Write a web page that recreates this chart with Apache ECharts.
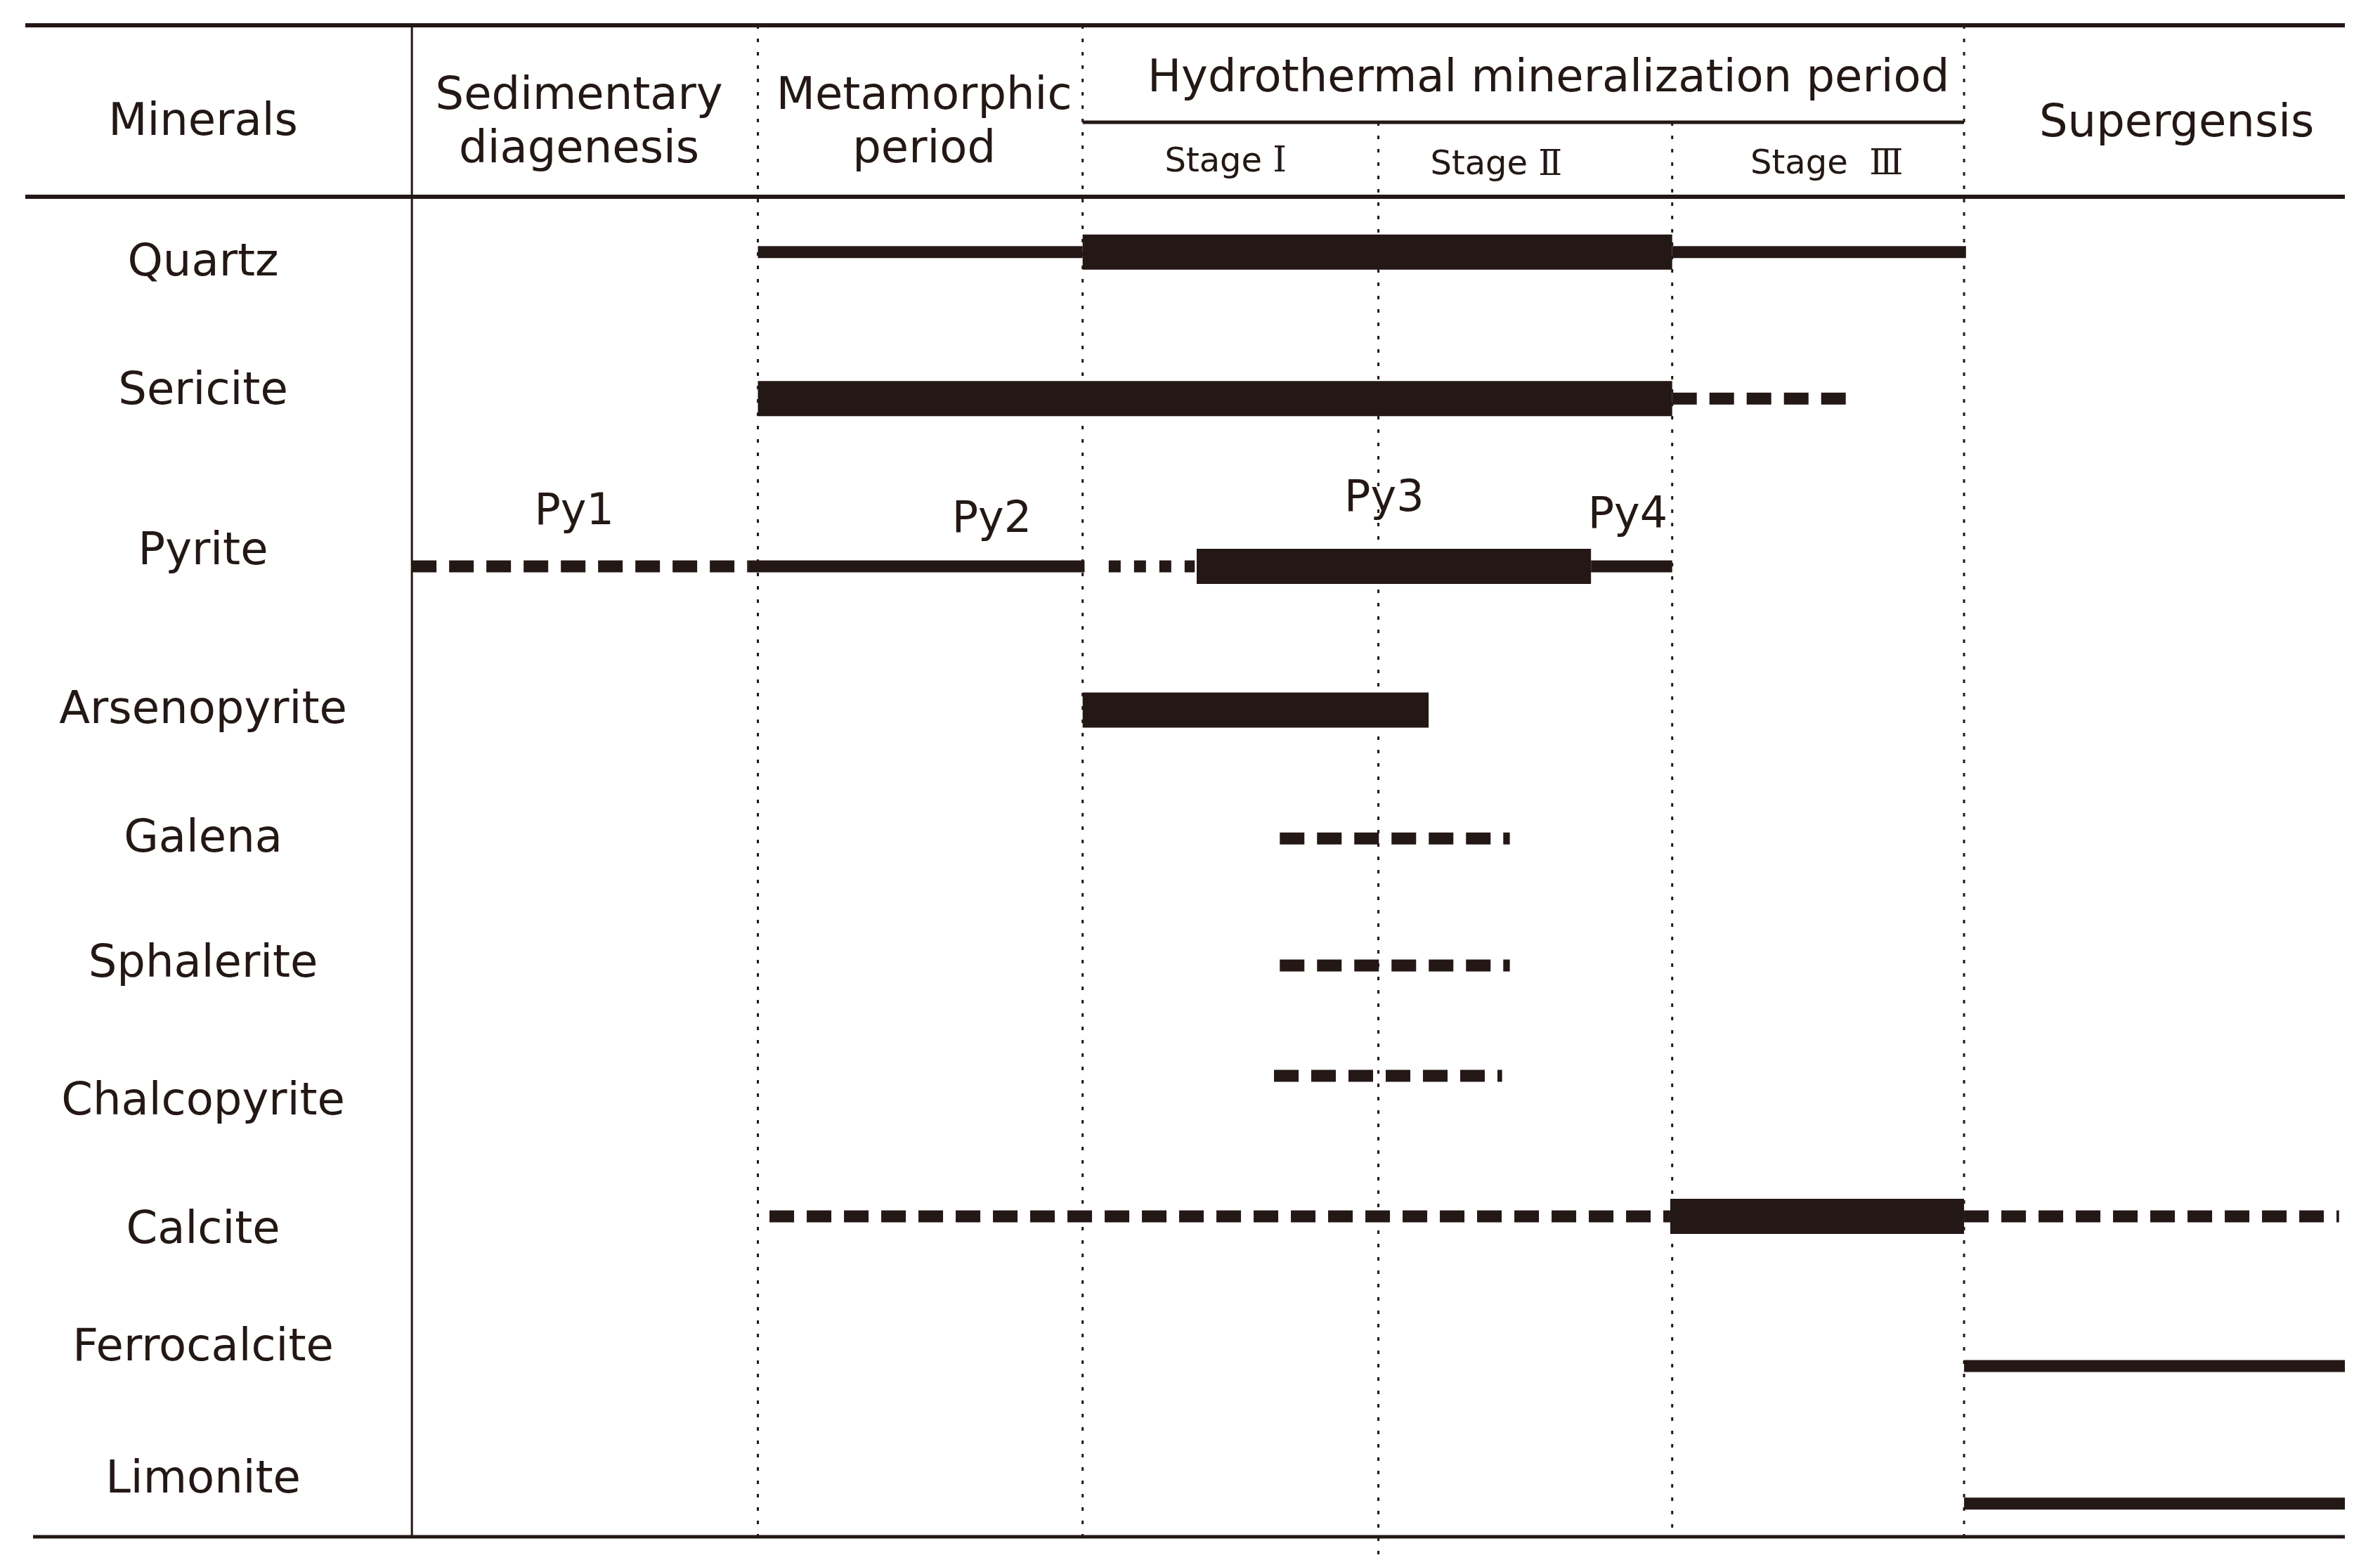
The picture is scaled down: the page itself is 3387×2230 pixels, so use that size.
<!DOCTYPE html>
<html><head><meta charset="utf-8">
<script src="https://cdn.jsdelivr.net/npm/echarts@6/dist/echarts.min.js"></script>
<style>html,body{margin:0;padding:0;background:#fff}#c{width:3387px;height:2230px}</style>
</head><body><div id="c"></div>
<script>
// ---- data ----
const minerals = ['Quartz','Sericite','Pyrite','Arsenopyrite','Galena','Sphalerite','Chalcopyrite','Calcite','Ferrocalcite','Limonite'];
const rowY   = [15.0, 24.7, 35.8, 45.3, 53.8, 62.2, 69.5, 78.8, 88.7, 97.8];
const labelY = [15.5, 24.0, 34.6, 45.1, 53.6, 61.9, 71.0, 79.5, 87.3, 96.0];
const periodBounds = [0, 17.9, 34.7, 50.0, 65.2, 80.3, 100];
const periodNames = ['Sedimentary\ndiagenesis', 'Metamorphic\nperiod', 'Hydrothermal mineralization period', 'Supergensis'];
const stageNames = ['Ⅰ', 'Ⅱ', 'Ⅲ'];
// segments: [mineral, start, end]
const strongSegs = [['Quartz',34.7,65.2],['Sericite',17.9,65.2],['Pyrite',40.6,61.0],['Arsenopyrite',34.7,52.6],['Calcite',65.1,80.3]];
const weakSegs   = [['Quartz',17.9,34.7],['Quartz',65.2,80.4],['Pyrite',17.4,34.8],['Pyrite',61.0,65.2],['Ferrocalcite',80.3,100],['Limonite',80.3,100]];
const rareSegs   = [['Sericite',65.2,74.2],['Pyrite',0,17.4],['Galena',44.9,56.8],['Sphalerite',44.9,56.8],['Chalcopyrite',44.6,56.4],['Calcite',18.5,65.1],['Calcite',80.3,99.7]];
const traceSegs  = [['Pyrite',36.05,40.5]];
const pyriteGens = ['Py1','Py2','Py3','Py4'];
const pyriteGenX = [8.4, 30.0, 50.3, 62.9];
const pyriteGenY = [32.0, 32.5, 31.1, 32.2];

// ---- layout / style ----
const INK = '#231815';
const FONT = 'DejaVu Sans';
const TEXT_DY = 6;
const L = {
  left: -20, headerSub: 6.42, headerBottom: 11.34,
  mineralsX: -10.8, mineralsY: 6.2,
  periodPos: [[8.65, 6.25], [26.5, 6.25], [58.8, 3.3], [91.3, 6.3]],
  stagePos: [[42.1, 8.95], [56.1, 9.15], [73.2, 9.1]],
  stageGap: [' ', ' ', '  ']
};

const chart = echarts.init(document.getElementById('c'), null, {renderer: 'canvas'});

function toData(segs) {
  return segs.map(([m, a, b]) => [a, b, rowY[minerals.indexOf(m)]]);
}
function segRender(kind) {
  return function (params, api) {
    const s = api.coord([api.value(0), api.value(2)]);
    const e = api.coord([api.value(1), api.value(2)]);
    if (kind === 'strong' || kind === 'weak') {
      const h = kind === 'strong' ? 50 : 17;
      return {type: 'rect', shape: {x: s[0], y: s[1] - h / 2, width: e[0] - s[0], height: h}, style: {fill: INK}};
    }
    return {type: 'line', shape: {x1: s[0], y1: s[1], x2: e[0], y2: e[1]},
      style: {stroke: INK, lineWidth: 17, lineCap: 'butt', lineDash: kind === 'rare' ? [35, 18] : [17, 19]}};
  };
}

function frameRender(params, api) {
  const c = (x, y) => api.coord([x, y]);
  const kids = [];
  const hline = (y, x1, x2, w) => {
    const a = c(x1, y), b = c(x2, y);
    kids.push({type: 'line', shape: {x1: a[0], y1: a[1], x2: b[0], y2: b[1]}, style: {stroke: INK, lineWidth: w}});
  };
  const vline = (x, y1, y2, w, dotted) => {
    const a = c(x, y1), b = c(x, y2);
    kids.push({type: 'line', shape: {x1: a[0], y1: a[1], x2: b[0], y2: b[1]},
      style: {stroke: INK, lineWidth: w, lineDash: dotted ? [5, 14] : null}});
  };
  hline(0, L.left, 100, 6);
  hline(L.headerBottom, L.left, 100, 6);
  hline(100, L.left + 0.4, 100, 5);
  hline(L.headerSub, periodBounds[2], periodBounds[5], 5);
  vline(periodBounds[0], 0, 100, 3, false);
  vline(periodBounds[1], 0, 100, 3, true);
  vline(periodBounds[2], 0, 100, 3, true);
  vline(periodBounds[3], L.headerSub, 101.4, 3, true);
  vline(periodBounds[4], L.headerSub, 100, 3, true);
  vline(periodBounds[5], 0, 100, 3, true);
  // texts
  const txt = (x, y, text, size, extra, dy) => {
    const p = c(x, y);
    kids.push({type: 'text', x: p[0], y: p[1] + (dy == null ? TEXT_DY : dy), style: Object.assign({text: text, fill: INK, fontFamily: FONT, fontSize: size,
      align: 'center', verticalAlign: 'middle'}, extra || {})});
  };
  txt(L.mineralsX, L.mineralsY, 'Minerals', 64);
  periodNames.forEach((n, i) => txt(L.periodPos[i][0], L.periodPos[i][1], n, 64, {lineHeight: 76}));
  stageNames.forEach((n, i) => txt(L.stagePos[i][0], L.stagePos[i][1], '{s|Stage}' + L.stageGap[i] + '{n|' + n + '}', 48, {
    rich: {s: {fontFamily: FONT, fontSize: 48, fill: INK}, n: {fontFamily: 'DejaVu Serif', fontSize: 50, fill: INK}}
  }, 3));
  minerals.forEach((m, i) => txt(L.mineralsX, labelY[i], m, 64));
  pyriteGens.forEach((g, i) => txt(pyriteGenX[i], pyriteGenY[i], g, 62));
  return {type: 'group', children: kids};
}

const segSeries = [['strong', strongSegs], ['weak', weakSegs], ['rare', rareSegs], ['trace', traceSegs]].map(([k, segs]) => ({
  type: 'custom', name: k, renderItem: segRender(k), data: toData(segs),
  encode: {x: [0, 1], y: 2}, clip: false, silent: true, z: 2
}));

chart.setOption({
  animation: false,
  backgroundColor: '#ffffff',
  grid: {left: 36, right: 50, top: 36, bottom: 43},
  xAxis: {type: 'value', min: -20, max: 100, show: false},
  yAxis: {type: 'value', min: 0, max: 100, inverse: true, show: false},
  series: [
    {type: 'custom', name: 'frame', renderItem: frameRender, data: [[0, 0]], encode: {x: 0, y: 1}, clip: false, silent: true, z: 1}
  ].concat(segSeries)
});
</script></body></html>
